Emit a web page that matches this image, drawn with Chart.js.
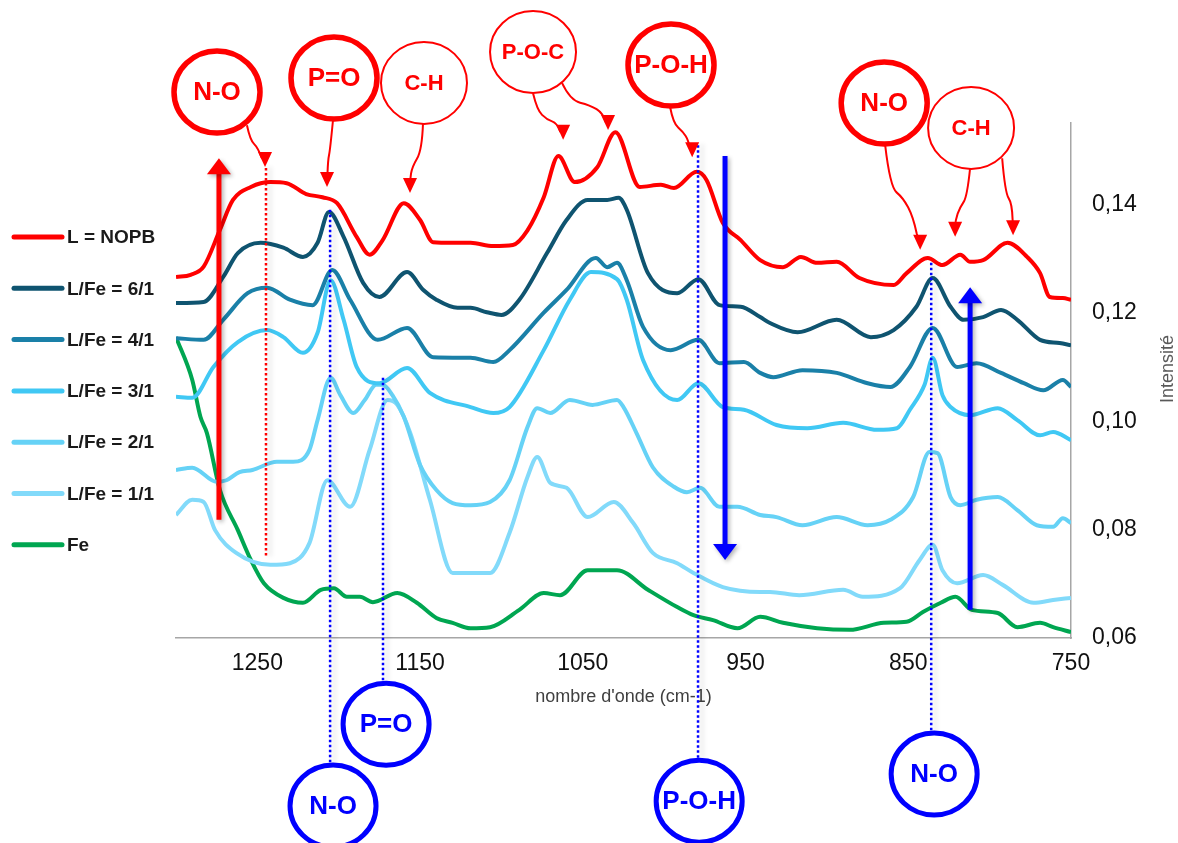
<!DOCTYPE html>
<html>
<head>
<meta charset="utf-8">
<script src="https://cdn.jsdelivr.net/npm/chart.js@4"></script>
<style>
    html, body { margin: 0; padding: 0; background: #fff; }
    canvas { display: block; }
</style>
</head>
<body>
<canvas id="chart" width="1178" height="843"></canvas>
<script>
// spectra: [wavenumber (cm-1), intensity]
const nopb = [[1300,0.1266],[1291,0.1270],[1283,0.1285],[1273,0.1353],[1265,0.1408],[1254,0.1432],[1242,0.1441],[1232,0.1439],[1220,0.1419],[1210,0.1413],[1201,0.1402],[1189,0.1340],[1181,0.1307],[1173,0.1334],[1160,0.1402],[1150,0.1371],[1142,0.1330],[1130,0.1329],[1119,0.1329],[1105,0.1323],[1093,0.1325],[1084,0.1352],[1074,0.1413],[1065,0.1489],[1055,0.1441],[1041,0.1469],[1030,0.1533],[1015,0.1432],[1002,0.1436],[994,0.1430],[980,0.1460],[974,0.1445],[964,0.1366],[953,0.1334],[941,0.1297],[927,0.1284],[916,0.1303],[906,0.1292],[894,0.1294],[880,0.1264],[859,0.1251],[851,0.1273],[838,0.1301],[829,0.1288],[818,0.1307],[812,0.1294],[804,0.1297],[789,0.1329],[777,0.1303],[769,0.1273],[763,0.1229],[755,0.1227],[750,0.1224]];
const fe6 = [[1300,0.1218],[1283,0.1220],[1271,0.1266],[1262,0.1310],[1248,0.1329],[1234,0.1320],[1222,0.1303],[1213,0.1329],[1206,0.1386],[1197,0.1340],[1185,0.1255],[1175,0.1229],[1158,0.1275],[1148,0.1242],[1140,0.1224],[1127,0.1209],[1119,0.1209],[1109,0.1201],[1100,0.1196],[1089,0.1224],[1072,0.1310],[1060,0.1371],[1047,0.1408],[1035,0.1408],[1028,0.1412],[1023,0.1390],[1010,0.1273],[992,0.1236],[979,0.1262],[966,0.1214],[953,0.1211],[941,0.1192],[935,0.1181],[918,0.1164],[894,0.1187],[873,0.1155],[859,0.1168],[845,0.1211],[835,0.1264],[824,0.1211],[816,0.1187],[804,0.1192],[793,0.1205],[783,0.1187],[769,0.1150],[757,0.1144],[750,0.1140]];
const fe4 = [[1300,0.1153],[1283,0.1150],[1271,0.1187],[1256,0.1236],[1244,0.1246],[1230,0.1224],[1216,0.1214],[1204,0.1279],[1193,0.1224],[1176,0.1150],[1158,0.1172],[1142,0.1118],[1119,0.1117],[1105,0.1109],[1095,0.1131],[1074,0.1200],[1060,0.1242],[1042,0.1301],[1035,0.1284],[1029,0.1292],[1023,0.1260],[1013,0.1174],[996,0.1131],[979,0.1150],[966,0.1107],[951,0.1109],[941,0.1089],[933,0.1081],[915,0.1094],[894,0.1089],[875,0.1070],[861,0.1063],[849,0.1100],[835,0.1172],[820,0.1100],[808,0.1107],[793,0.1089],[779,0.1070],[767,0.1057],[755,0.1076],[750,0.1063]];
const fe3 = [[1300,0.1045],[1290,0.1043],[1277,0.1100],[1262,0.1146],[1244,0.1168],[1234,0.1155],[1222,0.1126],[1213,0.1163],[1205,0.1260],[1197,0.1187],[1189,0.1100],[1175,0.1070],[1158,0.1098],[1144,0.1052],[1119,0.1026],[1105,0.1015],[1095,0.1026],[1074,0.1131],[1058,0.1224],[1045,0.1275],[1029,0.1262],[1023,0.1224],[1013,0.1113],[992,0.1039],[979,0.1070],[964,0.1026],[951,0.1021],[931,0.0993],[912,0.0987],[890,0.0997],[869,0.0984],[857,0.0987],[849,0.1021],[840,0.1067],[835,0.1117],[829,0.1048],[824,0.1026],[812,0.1011],[795,0.1024],[783,0.1002],[769,0.0974],[761,0.0980],[750,0.0965]];
const fe2 = [[1300,0.0910],[1290,0.0914],[1275,0.0888],[1269,0.0891],[1261,0.0906],[1253,0.0910],[1238,0.0925],[1228,0.0925],[1218,0.0947],[1213,0.1002],[1205,0.1080],[1199,0.1048],[1191,0.1015],[1184,0.1039],[1177,0.1067],[1173,0.1067],[1167,0.1048],[1160,0.1008],[1150,0.0919],[1140,0.0873],[1130,0.0849],[1119,0.0845],[1107,0.0851],[1095,0.0891],[1084,0.0989],[1078,0.1024],[1070,0.1015],[1058,0.1039],[1044,0.1030],[1029,0.1039],[1025,0.1026],[1017,0.0978],[1007,0.0915],[994,0.0879],[986,0.0869],[978,0.0877],[966,0.0842],[955,0.0842],[941,0.0827],[931,0.0823],[915,0.0808],[894,0.0823],[875,0.0808],[861,0.0818],[847,0.0860],[837,0.0943],[832,0.0941],[824,0.0860],[818,0.0845],[808,0.0855],[795,0.0860],[783,0.0836],[771,0.0808],[761,0.0805],[755,0.0821],[750,0.0812]];
const fe1 = [[1300,0.0827],[1290,0.0855],[1283,0.0851],[1276,0.0799],[1263,0.0757],[1242,0.0735],[1230,0.0738],[1218,0.0775],[1207,0.0891],[1193,0.0842],[1181,0.0947],[1170,0.1039],[1164,0.1030],[1156,0.0978],[1144,0.0855],[1130,0.0720],[1119,0.0720],[1107,0.0720],[1095,0.0794],[1084,0.0897],[1078,0.0934],[1070,0.0886],[1060,0.0877],[1047,0.0823],[1031,0.0851],[1019,0.0812],[1007,0.0757],[992,0.0738],[982,0.0720],[964,0.0694],[941,0.0685],[935,0.0685],[917,0.0679],[890,0.0689],[878,0.0676],[855,0.0692],[843,0.0744],[835,0.0772],[829,0.0725],[820,0.0701],[804,0.0716],[792,0.0698],[773,0.0665],[761,0.0670],[750,0.0674]];
const fe0 = [[1300,0.1155],[1290,0.1076],[1285,0.1008],[1281,0.0978],[1273,0.0873],[1262,0.0799],[1254,0.0744],[1246,0.0701],[1234,0.0674],[1222,0.0665],[1211,0.0689],[1203,0.0692],[1195,0.0676],[1187,0.0676],[1179,0.0666],[1164,0.0683],[1152,0.0665],[1140,0.0637],[1130,0.0628],[1119,0.0618],[1107,0.0620],[1089,0.0652],[1074,0.0683],[1064,0.0679],[1047,0.0725],[1029,0.0725],[1010,0.0689],[992,0.0657],[982,0.0642],[970,0.0633],[955,0.0618],[941,0.0639],[927,0.0628],[906,0.0618],[886,0.0615],[865,0.0628],[851,0.0630],[841,0.0648],[830,0.0665],[821,0.0676],[811,0.0652],[795,0.0646],[783,0.0620],[769,0.0628],[761,0.0620],[750,0.0611]];

const seriesNames = ['L = NOPB', 'L/Fe = 6/1', 'L/Fe = 4/1', 'L/Fe = 3/1', 'L/Fe = 2/1', 'L/Fe = 1/1', 'Fe'];
const seriesColors = ['#ff0000', '#0f5470', '#1a80a8', '#40c8f4', '#66d2f6', '#82dafa', '#00a651'];
const spectra = [nopb, fe6, fe4, fe3, fe2, fe1, fe0];

const xTicks = [1250, 1150, 1050, 950, 850, 750];
const yTicks = [0.06, 0.08, 0.10, 0.12, 0.14];

// band assignments, anchored in [wavenumber, intensity]
const redBubbles = [
    {text: 'N-O', at: [1274.8, 0.1607], heavy: true},
    {text: 'P=O', at: [1202.9, 0.1633], heavy: true},
    {text: 'C-H', at: [1147.6, 0.1624], heavy: false},
    {text: 'P-O-C', at: [1080.6, 0.1681], heavy: false},
    {text: 'P-O-H', at: [995.8, 0.1657], heavy: true},
    {text: 'N-O', at: [864.8, 0.1587], heavy: true},
    {text: 'C-H', at: [811.4, 0.1541], heavy: false},
];
const blueBubbles = [
    {text: 'N-O', at: [1203.5, 0.0290]},
    {text: 'P=O', at: [1170.9, 0.0441]},
    {text: 'P-O-H', at: [978.5, 0.0299]},
    {text: 'N-O', at: [834.1, 0.0349]},
];
const pointers = [
    [[1256.4,0.1546],[1254.5,0.1519],[1249.6,0.1504],[1245.3,0.1469]],
    [[1203.5,0.1556],[1205.3,0.1500],[1206.6,0.1482],[1207.2,0.1432]],
    [[1148.2,0.1550],[1148.8,0.1500],[1154.9,0.1469],[1156.2,0.1445],[1156.2,0.1421]],
    [[1080.6,0.1605],[1078.1,0.1574],[1072.0,0.1556],[1065.8,0.1550],[1062.1,0.1519]],
    [[1062.8,0.1624],[1057.8,0.1592],[1045.5,0.1583],[1037.6,0.1568],[1034.5,0.1537]],
    [[996.4,0.1580],[994.5,0.1550],[988.3,0.1533],[985.3,0.1519],[982.8,0.1487]],
    [[864.2,0.1509],[861.2,0.1432],[853.2,0.1412],[847.0,0.1377],[842.7,0.1316]],
    [[812.0,0.1467],[813.8,0.1414],[818.1,0.1395],[821.2,0.1371],[821.2,0.1340]],
    [[792.3,0.1485],[790.5,0.1421],[786.2,0.1402],[785.6,0.1343]],
];
const redGuides = [[1244.7, 0.1467, 0.0748]];
const blueGuides = [[1205.3, 0.1390, 0.0366], [1172.8, 0.1080, 0.0517], [979.2, 0.1509, 0.0377], [835.9, 0.1292, 0.0427]];
const bigArrows = [
    {wn: 1273.6, from: 0.0818, to: 0.1485, color: '#ff0000'},
    {wn: 962.6, from: 0.1489, to: 0.0744, color: '#0000ff'},
    {wn: 812.0, from: 0.0652, to: 0.1247, color: '#0000ff'},
];

const FONT = '"Liberation Sans", Arial, sans-serif';

function arrowHead(ctx, tip, prev, len, width) {
    const dx = tip[0] - prev[0], dy = tip[1] - prev[1];
    const d = Math.hypot(dx, dy) || 1;
    const ux = dx / d, uy = dy / d;
    const bx = tip[0] - ux * len, by = tip[1] - uy * len;
    ctx.beginPath();
    ctx.moveTo(tip[0], tip[1]);
    ctx.lineTo(bx - uy * width / 2, by + ux * width / 2);
    ctx.lineTo(bx + uy * width / 2, by - ux * width / 2);
    ctx.closePath();
    ctx.fill();
}

function bubble(ctx, x, y, text, color, lw, size) {
    ctx.beginPath();
    ctx.ellipse(x, y, 43, 41, 0, 0, Math.PI * 2);
    ctx.lineWidth = lw;
    ctx.strokeStyle = color;
    ctx.stroke();
    ctx.fillStyle = color;
    ctx.font = `bold ${size}px ${FONT}`;
    ctx.textAlign = 'center';
    ctx.textBaseline = 'middle';
    ctx.fillText(text, x, y + 1);
}

const decorations = {
    id: 'decorations',
    afterDraw(chart) {
        const ctx = chart.ctx;
        const xs = chart.scales.x, ys = chart.scales.y;
        const P = ([wn, v]) => [xs.getPixelForValue(wn), ys.getPixelForValue(v)];

        // legend
        chart.data.datasets.forEach((ds, i) => {
            const y = 237 + i * 51.3;
            ctx.save();
            ctx.strokeStyle = ds.borderColor;
            ctx.lineWidth = 5;
            ctx.lineCap = 'round';
            ctx.beginPath();
            ctx.moveTo(14, y);
            ctx.lineTo(62, y);
            ctx.stroke();
            ctx.fillStyle = '#1a1a1a';
            ctx.font = `bold 19px ${FONT}`;
            ctx.textBaseline = 'middle';
            ctx.fillText(ds.label, 67, y + 1);
            ctx.restore();
        });

        // y axis title
        ctx.save();
        ctx.translate(1168, 369);
        ctx.rotate(-Math.PI / 2);
        ctx.fillStyle = '#595959';
        ctx.font = `18px ${FONT}`;
        ctx.textAlign = 'center';
        ctx.textBaseline = 'middle';
        ctx.fillText('Intensité', 0, 0);
        ctx.restore();

        // dotted guides
        const guide = (g, color) => {
            const x = xs.getPixelForValue(g[0]);
            ctx.save();
            ctx.shadowColor = 'rgba(0,0,0,0.22)';
            ctx.shadowBlur = 5;
            ctx.shadowOffsetX = 4;
            ctx.strokeStyle = color;
            ctx.lineWidth = 2.5;
            ctx.setLineDash([2.5, 2.5]);
            ctx.beginPath();
            ctx.moveTo(x, ys.getPixelForValue(g[1]));
            ctx.lineTo(x, ys.getPixelForValue(g[2]));
            ctx.stroke();
            ctx.restore();
        };
        redGuides.forEach(g => guide(g, '#ff0000'));
        blueGuides.forEach(g => guide(g, '#0000ff'));

        // thick arrows
        bigArrows.forEach(a => {
            const x = xs.getPixelForValue(a.wn);
            const y0 = ys.getPixelForValue(a.from), y1 = ys.getPixelForValue(a.to);
            const dir = Math.sign(y1 - y0);
            ctx.save();
            ctx.shadowColor = 'rgba(0,0,0,0.3)';
            ctx.shadowBlur = 4;
            ctx.shadowOffsetX = 2;
            ctx.shadowOffsetY = 2;
            ctx.strokeStyle = a.color;
            ctx.fillStyle = a.color;
            ctx.lineWidth = 5;
            ctx.beginPath();
            ctx.moveTo(x, y0);
            ctx.lineTo(x, y1 - dir * 14);
            ctx.stroke();
            arrowHead(ctx, [x, y1], [x, y0], 16, 24);
            ctx.restore();
        });

        // thin curved pointers
        ctx.save();
        ctx.strokeStyle = '#ff0000';
        ctx.fillStyle = '#ff0000';
        ctx.lineWidth = 2;
        pointers.forEach(path => {
            const pts = path.map(P);
            const n = pts.length;
            ctx.beginPath();
            ctx.moveTo(pts[0][0], pts[0][1]);
            for (let i = 1; i < n - 1; i++) {
                const mx = (pts[i][0] + pts[i + 1][0]) / 2;
                const my = (pts[i][1] + pts[i + 1][1]) / 2;
                ctx.quadraticCurveTo(pts[i][0], pts[i][1], mx, my);
            }
            ctx.lineTo(pts[n - 1][0], pts[n - 1][1] - 6);
            ctx.stroke();
            arrowHead(ctx, pts[n - 1], [pts[n - 1][0], pts[n - 1][1] - 10], 15, 14);
        });
        ctx.restore();

        // bubbles
        ctx.save();
        redBubbles.forEach(b => {
            const [x, y] = P(b.at);
            bubble(ctx, x, y, b.text, '#ff0000', b.heavy ? 5.5 : 2, b.heavy ? 26 : 22);
        });
        blueBubbles.forEach(b => {
            const [x, y] = P(b.at);
            bubble(ctx, x, y, b.text, '#0000ff', 5, 26);
        });
        ctx.restore();
    }
};

new Chart(document.getElementById('chart'), {
    type: 'line',
    data: {
        datasets: spectra.map((s, i) => ({
            label: seriesNames[i],
            data: s.map(([x, y]) => ({x, y})),
            borderColor: seriesColors[i],
            borderWidth: 4,
            pointRadius: 0,
            cubicInterpolationMode: 'monotone',
            fill: false,
        })),
    },
    options: {
        responsive: false,
        animation: false,
        devicePixelRatio: 1,
        layout: {padding: {left: 176, top: 123, right: 0, bottom: 0}},
        plugins: {legend: {display: false}, tooltip: {enabled: false}},
        scales: {
            x: {
                type: 'linear',
                reverse: true,
                min: 750,
                max: 1300,
                grid: {display: false, drawTicks: false},
                border: {display: true, color: '#a6a6a6', width: 1.5},
                afterBuildTicks: (s) => { s.ticks = xTicks.map(v => ({value: v})); },
                afterFit: (s) => { s.height = 205; },
                ticks: {
                    autoSkip: false,
                    maxRotation: 0,
                    padding: 12,
                    color: '#111',
                    font: {family: FONT, size: 23},
                    callback: (v) => String(v),
                },
                title: {
                    display: true,
                    text: "nombre d'onde (cm-1)",
                    color: '#404040',
                    font: {family: FONT, size: 18},
                    padding: {top: 0, bottom: 135},
                },
            },
            y: {
                position: 'right',
                min: 0.06,
                max: 0.155,
                grid: {display: false, drawTicks: false},
                border: {display: true, color: '#a6a6a6', width: 1.5},
                afterBuildTicks: (s) => { s.ticks = yTicks.map(v => ({value: v})); },
                afterFit: (s) => { s.width = 107; },
                ticks: {
                    padding: 21,
                    color: '#111',
                    font: {family: FONT, size: 23},
                    callback: (v) => v.toFixed(2).replace('.', ','),
                },
            },
        },
    },
    plugins: [decorations],
});
</script>
</body>
</html>
